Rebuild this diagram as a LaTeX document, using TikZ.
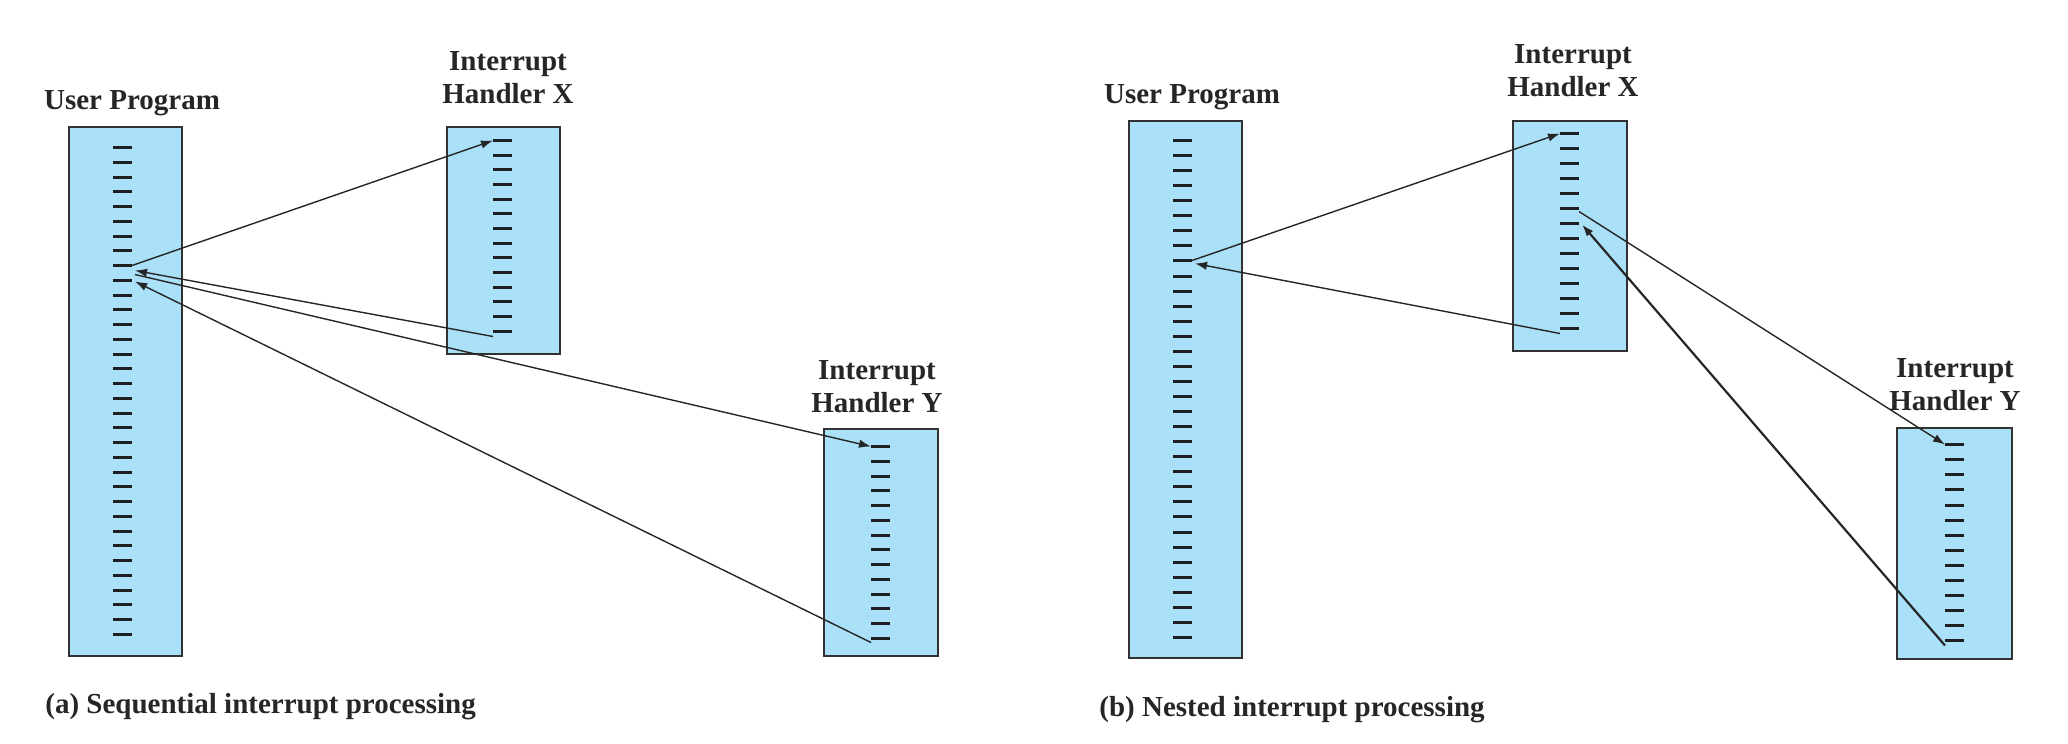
\documentclass[tikz,border=0pt]{standalone}
\usepackage{fontspec}
\setmainfont{Liberation Serif}
\usetikzlibrary{arrows.meta,calc}
\definecolor{boxblue}{RGB}{170,224,248}
\definecolor{edgegray}{RGB}{50,50,50}
\begin{document}
\begin{tikzpicture}[x=0.5pt,y=-0.5pt,
  prog/.style={draw=edgegray, line width=0.9pt, fill=boxblue, inner sep=0pt, anchor=north west},
  codeline/.style={line width=1.6pt, draw=black!88},
  flow/.style={line width=0.7pt, draw=black!85, -{Latex[length=6pt,width=4.2pt]}},
  lbl/.style={font=\fontsize{14.5}{16.5}\selectfont\bfseries, inner sep=0pt, align=center, text=black!85},
]
\useasboundingbox (0,0) rectangle (2068,744);

% boxes
\node[prog, minimum width=56.5pt, minimum height=264.5pt] (upa) at (68,126) {};
\node[prog, minimum width=56.5pt, minimum height=113.5pt] (xa) at (446,126) {};
\node[prog, minimum width=57pt, minimum height=113.5pt] (ya) at (823,428) {};
\node[prog, minimum width=56.5pt, minimum height=268.5pt] (upb) at (1128,120) {};
\node[prog, minimum width=57pt, minimum height=115pt] (xb) at (1512,120) {};
\node[prog, minimum width=57.5pt, minimum height=115.5pt] (yb) at (1896,427) {};

% labels
\node[lbl, anchor=base] (upaT) at (132,109.5) {User Program};
\node[lbl, anchor=south] (xaT) at (508,104) {Interrupt\\Handler X};
\node[lbl, anchor=south] (yaT) at (877,413) {Interrupt\\Handler Y};
\node[lbl, anchor=base] (upbT) at (1192,103) {User Program};
\node[lbl, anchor=south] (xbT) at (1573,97.5) {Interrupt\\Handler X};
\node[lbl, anchor=south] (ybT) at (1955,411.5) {Interrupt\\Handler Y};
\node[lbl, anchor=base west] (capa) at (45,713.5) {(a) Sequential interrupt processing};
\node[lbl, anchor=base west] (capb) at (1099,716) {(b) Nested interrupt processing};

% code lines
\foreach \i in {0,...,33}{
  \pgfmathsetmacro\yy{round(147+14.75*\i)+0.5}
  \draw[codeline] (113,\yy) coordinate (ua-\i-l) -- (132,\yy) coordinate (ua-\i-r);
  \pgfmathsetmacro\yb{round(140+15.06*\i)+0.5}
  \draw[codeline] (1173,\yb) coordinate (ub-\i-l) -- (1192,\yb) coordinate (ub-\i-r);
}
\foreach \i in {0,...,13}{
  \pgfmathsetmacro\ya{round(140+14.67*\i)+0.5}
  \draw[codeline] (493,\ya) coordinate (xa-\i-l) -- (512,\ya) coordinate (xa-\i-r);
  \pgfmathsetmacro\yc{round(446+14.75*\i)+0.5}
  \draw[codeline] (871,\yc) coordinate (ya-\i-l) -- (890,\yc) coordinate (ya-\i-r);
  \pgfmathsetmacro\yd{round(133.3+15*\i)+0.5}
  \draw[codeline] (1560,\yd) coordinate (xb-\i-l) -- (1579,\yd) coordinate (xb-\i-r);
  \pgfmathsetmacro\ye{round(444.3+15.05*\i)+0.5}
  \draw[codeline] (1945,\ye) coordinate (yb-\i-l) -- (1964,\ye) coordinate (yb-\i-r);
}

% (a) sequential
\draw[flow] (ua-8-r) -- (xa-0-l);
\draw[flow] ($(xa-13-l)+(0,5)$) -- ($(ua-8-r)+(3,5)$);
\draw[flow] ($(ua-8-r)+(3,9)$) -- (ya-0-l);
\draw[flow] ($(ya-13-l)+(0,4)$) -- ($(ua-9-r)+(3,1)$);

% (b) nested
\draw[flow] (ub-8-r) -- (xb-0-l);
\draw[flow] ($(xb-13-l)+(0,5)$) -- ($(ub-8-r)+(3,3)$);
\draw[flow] ($(xb-5-r)+(0,3)$) -- (yb-0-l);
\draw[flow, line width=1.1pt] ($(yb-13-l)+(0,5)$) -- ($(xb-6-r)+(3,1)$);
\end{tikzpicture}
\end{document}
